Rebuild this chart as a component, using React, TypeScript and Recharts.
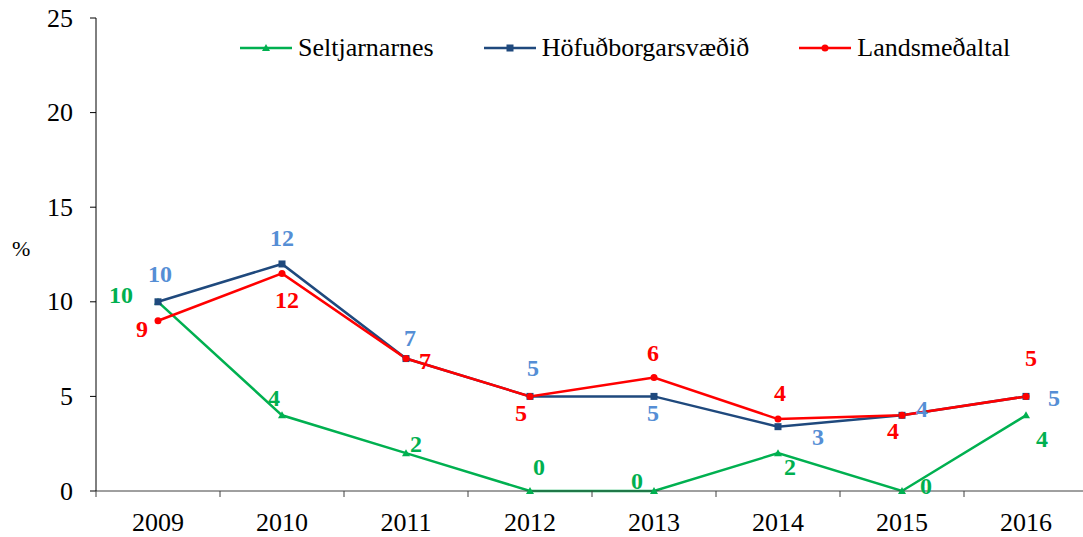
import React from "react";
import {
  LineChart,
  Line,
  XAxis,
  YAxis,
  Legend,
  LabelList,
} from "recharts";

// Chart data
const years = ["2009", "2010", "2011", "2012", "2013", "2014", "2015", "2016"];
const seltjarnarnes = [10, 4, 2, 0, 0, 2, 0, 4];
const hofudborgarsvaedid = [10, 12, 7, 5, 5, 3.4, 4, 5];
const landsmedaltal = [9, 11.5, 7, 5, 6, 3.8, 4, 5];
const yTicks = [0, 5, 10, 15, 20, 25];

const data = years.map((year, i) => ({
  year,
  selt: seltjarnarnes[i],
  hofud: hofudborgarsvaedid[i],
  lands: landsmedaltal[i],
}));

// label offsets from each point (dx, dy)
const seltOffsets = [[-37, -7], [-8, -17], [10, -9], [9, -24], [-17, -10], [12, 14], [24, -5], [16, 24]];
const hofudOffsets = [[2, -28], [0, -26], [4, -21], [3, -28], [-1, 17], [40, 10], [20, -6], [28, 2]];
const landsOffsets = [[-16, 8], [5, 27], [19, 2], [-9, 17], [-1, -24], [2, -26], [-9, 16], [5, -38]];

const FONT = "Liberation Serif";
const GREEN = "#00B050";
const NAVY = "#1F497D";
const RED = "#FF0000";
const LIGHTBLUE = "#558ED5";

const makeLabel = (offsets: number[][], color: string) => (props: any) => {
  const { x, y, value, index } = props;
  const [dx, dy] = offsets[index] || [0, 0];
  return (
    <text
      x={x + dx}
      y={y + dy}
      textAnchor="middle"
      dominantBaseline="central"
      fill={color}
      style={{ fontFamily: FONT, fontSize: 24, fontWeight: "bold" }}
    >
      {Math.round(value)}
    </text>
  );
};

const TriangleDot = (props: any) => {
  const { cx, cy } = props;
  if (cx == null || cy == null) return null;
  return <polygon points={`${cx},${cy - 4} ${cx - 4},${cy + 3} ${cx + 4},${cy + 3}`} fill={GREEN} />;
};

const SquareDot = (props: any) => {
  const { cx, cy } = props;
  if (cx == null || cy == null) return null;
  return <rect x={cx - 3.5} y={cy - 3.5} width={7} height={7} fill={NAVY} />;
};

const CircleDot = (props: any) => {
  const { cx, cy } = props;
  if (cx == null || cy == null) return null;
  return <circle cx={cx} cy={cy} r={3.5} fill={RED} />;
};

const XTick = (props: any) => {
  const { x, y, payload, index, visibleTicksCount } = props;
  const half = payload.offset || 0;
  const isLast = index === (visibleTicksCount || years.length) - 1;
  return (
    <g>
      <line x1={x - half} y1={y} x2={x - half} y2={y + 6} stroke="#404040" strokeWidth={1} />
      {isLast && <line x1={x + half} y1={y} x2={x + half} y2={y + 6} stroke="#404040" strokeWidth={1} />}
      <text x={x} y={y + 31} textAnchor="middle" dominantBaseline="central" fill="#000" style={{ fontFamily: FONT, fontSize: 26 }}>
        {payload.value}
      </text>
    </g>
  );
};

const YTick = (props: any) => {
  const { x, y, payload } = props;
  return (
    <text x={x} y={y} textAnchor="end" dominantBaseline="central" fill="#000" style={{ fontFamily: FONT, fontSize: 26 }}>
      {payload.value}
    </text>
  );
};

const legendItems = [
  { name: "Seltjarnarnes", color: GREEN, dot: "tri" },
  { name: "Höfuðborgarsvæðið", color: NAVY, dot: "sq" },
  { name: "Landsmeðaltal", color: RED, dot: "circ" },
];

const CustomLegend = () => (
  <div style={{ display: "flex", alignItems: "center", fontFamily: FONT, fontSize: 26, color: "#000", whiteSpace: "nowrap" }}>
    {legendItems.map((item, i) => (
      <div key={item.name} style={{ display: "flex", alignItems: "center", marginLeft: i === 0 ? 0 : 50 }}>
        <svg width={52} height={12}>
          <line x1={0} y1={6} x2={52} y2={6} stroke={item.color} strokeWidth={2.5} />
          {item.dot === "tri" && <polygon points="26,2 22,9 30,9" fill={item.color} />}
          {item.dot === "sq" && <rect x={22.5} y={2.5} width={7} height={7} fill={item.color} />}
          {item.dot === "circ" && <circle cx={26} cy={6} r={3.5} fill={item.color} />}
        </svg>
        <span style={{ marginLeft: 6, lineHeight: "30px", fontFamily: FONT }}>{item.name}</span>
      </div>
    ))}
  </div>
);

export default function App() {
  return (
    <div style={{ position: "absolute", left: 0, top: 0, width: 1083, height: 537, background: "#fff", fontFamily: FONT }}>
      <LineChart
        width={1083}
        height={537}
        data={data}
        margin={{ top: 18, right: -5, bottom: 0, left: 0 }}
      >
        <XAxis
          dataKey="year"
          scale="band"
          height={46}
          stroke="#404040"
          tickLine={false}
          tickSize={0}
          tickMargin={0}
          interval={0}
          tick={<XTick />}
        />
        <YAxis
          width={96}
          domain={[0, 25]}
          ticks={yTicks}
          interval={0}
          stroke="#000"
          tickSize={6}
          tickMargin={17}
          tick={<YTick />}
          label={{ value: "%", position: "insideLeft", offset: 12, dy: -6, style: { fontFamily: FONT, fontSize: 22 }, fill: "#000" }}
        />
        <Legend
          verticalAlign="middle"
          content={<CustomLegend />}
          wrapperStyle={{ position: "absolute", top: 33, left: 240, width: "auto" }}
        />
        <Line
          dataKey="selt"
          name="Seltjarnarnes"
          stroke={GREEN}
          strokeWidth={2.5}
          dot={<TriangleDot />}
          isAnimationActive={false}
        >
          <LabelList dataKey="selt" content={makeLabel(seltOffsets, GREEN)} />
        </Line>
        <Line
          dataKey="hofud"
          name="Höfuðborgarsvæðið"
          stroke={NAVY}
          strokeWidth={2.5}
          dot={<SquareDot />}
          isAnimationActive={false}
        >
          <LabelList dataKey="hofud" content={makeLabel(hofudOffsets, LIGHTBLUE)} />
        </Line>
        <Line
          dataKey="lands"
          name="Landsmeðaltal"
          stroke={RED}
          strokeWidth={2.5}
          dot={<CircleDot />}
          isAnimationActive={false}
        >
          <LabelList dataKey="lands" content={makeLabel(landsOffsets, RED)} />
        </Line>
      </LineChart>
    </div>
  );
}
